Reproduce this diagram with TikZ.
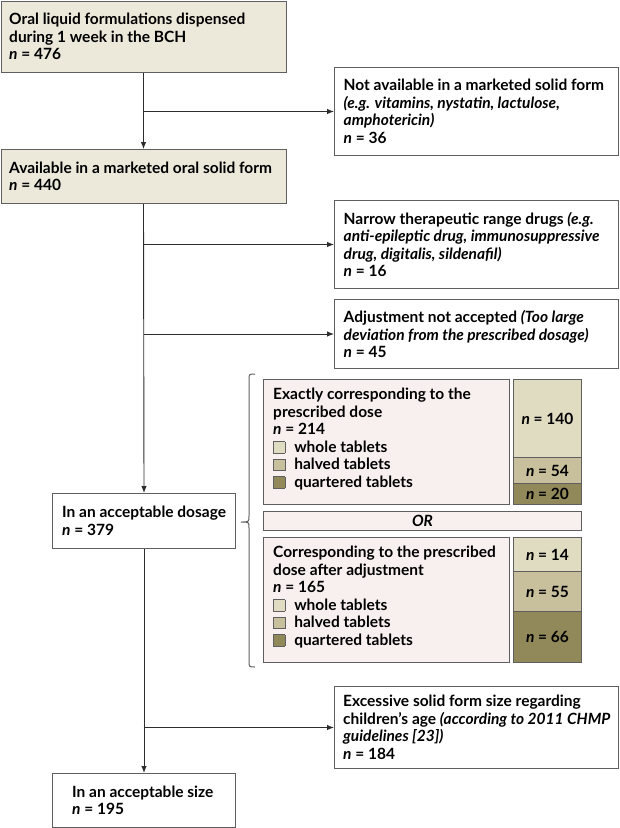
\documentclass[tikz,border=0pt]{standalone}
\usepackage{fontspec}
\setmainfont{Lato}
\usetikzlibrary{arrows.meta}
\definecolor{bord}{RGB}{95,95,95}
\definecolor{lnc}{RGB}{45,45,45}
\definecolor{beige}{RGB}{236,233,219}
\definecolor{pinkf}{RGB}{248,240,238}
\definecolor{clight}{RGB}{224,220,194}
\definecolor{cmed}{RGB}{200,192,156}
\definecolor{cdark}{RGB}{146,137,90}
\newcommand\legsq[1]{\raisebox{-0.5pt}{\setlength\fboxsep{0pt}\setlength\fboxrule{0.8pt}\fcolorbox{bord}{#1}{\rule{0pt}{10.5pt}\rule{10.5pt}{0pt}}}\hspace{9pt}}
\begin{document}
\begin{tikzpicture}[x=1pt,y=-1pt,
  bx/.style={draw=bord, line width=1pt, anchor=north west, inner sep=0pt},
  txt/.style={anchor=west, align=left, inner sep=0pt, text=black,
    font=\fontsize{15.5}{17.5}\selectfont\bfseries},
  celltxt/.style={inner sep=0pt, text=black, font=\fontsize{15.5}{17}\selectfont\bfseries},
  ln/.style={draw=lnc, line width=0.9pt},
  arr/.style={ln, -{Latex[length=7pt,width=5.5pt]}}]
\useasboundingbox (0,0) rectangle (620,828);
% left column boxes
\node[bx, fill=beige, minimum width=285pt, minimum height=71pt] (B1) at (0.5,0.5) {};
\node[txt] (B1t) at ([xshift=8.5pt]B1.west) {Oral liquid formulations dispensed\\during 1 week in the BCH\\\textit{n} = 476};
\node[bx, fill=beige, minimum width=285pt, minimum height=54pt] (B2) at (0.5,149) {};
\node[txt] (B2t) at ([xshift=8.5pt]B2.west) {Available in a marketed oral solid form\\\textit{n} = 440};
\node[bx, fill=white, minimum width=183pt, minimum height=55pt] (B3) at (52,493) {};
\node[txt] (B3t) at ([xshift=10pt]B3.west) {In an acceptable dosage\\\textit{n} = 379};
\node[bx, fill=white, minimum width=183pt, minimum height=54pt] (B4) at (52,773) {};
\node[txt] (B4t) at ([xshift=20pt]B4.west) {In an acceptable size\\\textit{n} = 195};
% right boxes
\node[bx, fill=white, minimum width=284pt, minimum height=88pt] (R1) at (334,67) {};
\node[txt] (R1t) at ([xshift=9.5pt]R1.west) {Not available in a marketed solid form\\\textit{(e.g. vitamins, nystatin, lactulose,}\\\textit{amphotericin)}\\\textit{n} = 36};
\node[bx, fill=white, minimum width=284pt, minimum height=88pt] (R2) at (334,200) {};
\node[txt] (R2t) at ([xshift=9.5pt]R2.west) {Narrow therapeutic range drugs \textit{(e.g.}\\\textit{anti-epileptic drug, immunosuppressive}\\\textit{drug, digitalis, sildenafil)}\\\textit{n} = 16};
\node[bx, fill=white, minimum width=284pt, minimum height=69pt] (R3) at (334,299) {};
\node[txt] (R3t) at ([xshift=9.5pt]R3.west) {Adjustment not accepted \textit{(Too large}\\\textit{deviation from the prescribed dosage)}\\\textit{n} = 45};
\node[bx, fill=white, minimum width=284pt, minimum height=82pt] (R4) at (334,686) {};
\node[txt] (R4t) at ([xshift=9pt]R4.west) {Excessive solid form size regarding\\children's age \textit{(according to 2011 CHMP}\\\textit{guidelines [23])}\\\textit{n} = 184};
% dosage group
\node[bx, fill=pinkf, minimum width=246pt, minimum height=125pt] (P1) at (263,379) {};
\node[txt, anchor=north west] (P1t) at ([xshift=10pt,yshift=-9pt]P1.north west) {Exactly corresponding to the\\prescribed dose\\\textit{n} = 214\\\legsq{clight}whole tablets\\\legsq{cmed}halved tablets\\\legsq{cdark}quartered tablets};
\node[bx, fill=clight, minimum width=68pt, minimum height=78pt] (C1a) at (513,379) {};
\node[bx, fill=cmed, minimum width=68pt, minimum height=26pt] (C1b) at (513,457) {};
\node[bx, fill=cdark, minimum width=68pt, minimum height=21pt] (C1c) at (513,483) {};
\node[celltxt] at (C1a.center) {\textit{n} = 140};
\node[celltxt] at (C1b.center) {\textit{n} = 54};
\node[celltxt] at (C1c.center) {\textit{n} = 20};
\node[bx, fill=pinkf, minimum width=318pt, minimum height=19pt] (OR) at (263,511) {};
\node[celltxt] (ORt) at (OR.center) {\textit{OR}};
\node[bx, fill=pinkf, minimum width=246pt, minimum height=125pt] (P2) at (263,537) {};
\node[txt, anchor=north west] (P2t) at ([xshift=10pt,yshift=-9pt]P2.north west) {Corresponding to the prescribed\\dose after adjustment\\\textit{n} = 165\\\legsq{clight}whole tablets\\\legsq{cmed}halved tablets\\\legsq{cdark}quartered tablets};
\node[bx, fill=clight, minimum width=68pt, minimum height=34pt] (C2a) at (513,537) {};
\node[bx, fill=cmed, minimum width=68pt, minimum height=40pt] (C2b) at (513,571) {};
\node[bx, fill=cdark, minimum width=68pt, minimum height=51pt] (C2c) at (513,611) {};
\node[celltxt] at (C2a.center) {\textit{n} = 14};
\node[celltxt] at (C2b.center) {\textit{n} = 55};
\node[celltxt] at (C2c.center) {\textit{n} = 66};
% brace
\draw[draw=bord, line width=1pt] (255,374) .. controls (249,374) .. (249,380) -- (249,516) .. controls (249,522) .. (241,522) .. controls (249,522) .. (249,528) -- (249,661) .. controls (249,667) .. (255,667);
% connectors
\coordinate (j1) at (B1.south |- R1.west);
\coordinate (j2) at (B1.south |- R2.west);
\coordinate (j3) at (B1.south |- R3.west);
\coordinate (j4) at (B1.south |- R4.west);
\draw[arr] (B1.south) -- (B2.north);
\draw[arr] (j1) -- (R1.west);
\draw[arr] (B2.south) -- (B3.north);
\draw[arr] (j2) -- (R2.west);
\draw[arr] (j3) -- (R3.west);
\draw[arr] (B3.south) -- (B4.north);
\draw[arr] (j4) -- (R4.west);
\end{tikzpicture}
\end{document}
